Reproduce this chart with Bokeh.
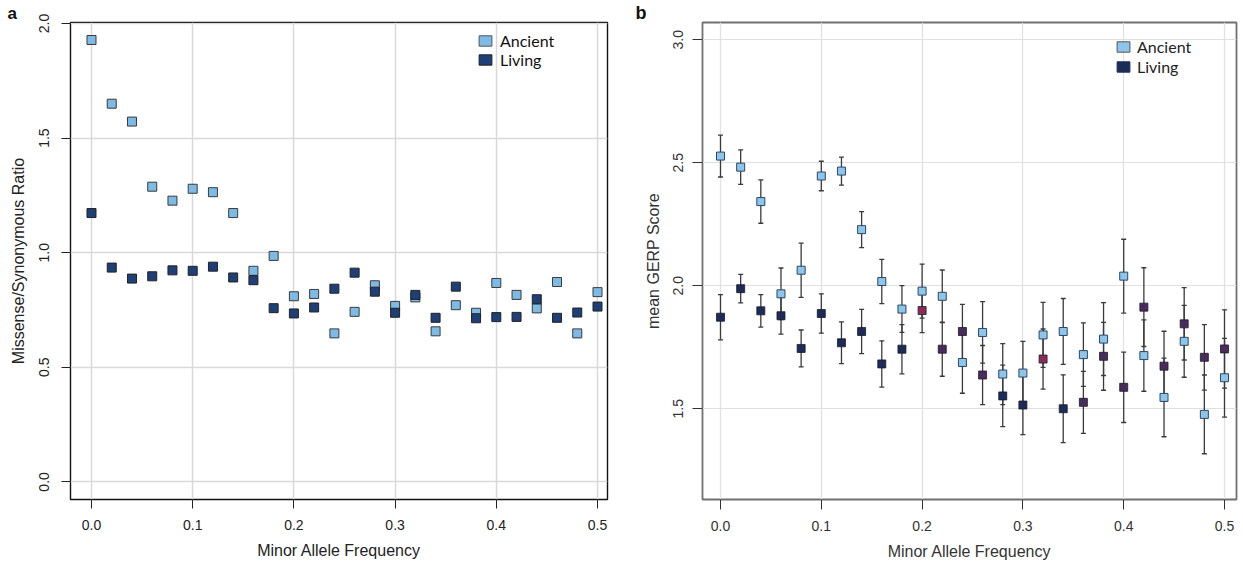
import numpy as np
from bokeh.plotting import figure
from bokeh.models import (ColumnDataSource, FixedTicker, Legend, LegendItem, Range1d)
from bokeh.layouts import row
from bokeh.embed import file_html
from bokeh.resources import INLINE

# ---------------- data ----------------
maf = [0.00, 0.02, 0.04, 0.06, 0.08, 0.10, 0.12, 0.14, 0.16, 0.18, 0.20, 0.22, 0.24,
       0.26, 0.28, 0.30, 0.32, 0.34, 0.36, 0.38, 0.40, 0.42, 0.44, 0.46, 0.48, 0.50]

# panel a: missense / synonymous ratio
ancient_ratio = [1.928, 1.650, 1.572, 1.288, 1.227, 1.279, 1.264, 1.173, 0.921, 0.986,
                 0.810, 0.820, 0.648, 0.742, 0.858, 0.768, 0.805, 0.657, 0.771, 0.738,
                 0.868, 0.816, 0.757, 0.872, 0.648, 0.828]
living_ratio = [1.173, 0.935, 0.887, 0.897, 0.923, 0.921, 0.939, 0.892, 0.880, 0.758,
                0.735, 0.761, 0.843, 0.913, 0.830, 0.738, 0.816, 0.716, 0.852, 0.714,
                0.719, 0.720, 0.797, 0.716, 0.739, 0.765]

# panel b: mean GERP score with error bars
ancient_gerp = [2.527, 2.482, 2.342, 1.967, 2.063, 2.446, 2.466, 2.228, 2.017, 1.905,
                1.978, 1.957, 1.688, 1.810, 1.641, 1.645, 1.800, 1.814, 1.720, 1.783,
                2.039, 1.716, 1.546, 1.774, 1.477, 1.626]
ancient_err = [0.085, 0.070, 0.088, 0.105, 0.110, 0.060, 0.057, 0.073, 0.090, 0.095,
               0.110, 0.107, 0.125, 0.125, 0.124, 0.129, 0.132, 0.134, 0.129, 0.148,
               0.150, 0.145, 0.160, 0.146, 0.160, 0.160]
living_gerp = [1.872, 1.988, 1.898, 1.878, 1.745, 1.887, 1.768, 1.814, 1.682, 1.742,
               1.899, 1.742, 1.814, 1.637, 1.552, 1.515, 1.702, 1.500, 1.526, 1.713,
               1.587, 1.913, 1.673, 1.845, 1.709, 1.743]
living_err = [0.092, 0.058, 0.066, 0.075, 0.075, 0.080, 0.085, 0.090, 0.094, 0.100,
              0.090, 0.110, 0.110, 0.120, 0.125, 0.120, 0.122, 0.138, 0.126, 0.138,
              0.143, 0.160, 0.142, 0.147, 0.133, 0.159]
living_shade = ["#1b2c58"] * 10 + ["#8a2c57", "#4a2c5c", "#4a2c5c", "#4a2c5c", "#1b2c58",
                                   "#1b2c58", "#8a2c57", "#1b2c58", "#4a2c5c", "#4a2c5c",
                                   "#4a2c5c", "#4a2c5c", "#4a2c5c", "#4a2c5c", "#4a2c5c",
                                   "#4a2c5c"]

x_ticks = [0.0, 0.1, 0.2, 0.3, 0.4, 0.5]
ya_ticks = [0.0, 0.5, 1.0, 1.5, 2.0]
yb_ticks = [1.5, 2.0, 2.5, 3.0]
series_names = ["Ancient", "Living"]
panel_tags = ["a", "b"]

FONT = "Liberation Sans"
LEG_FONT = "Lato"


def style_axes(p, xt, yt, txt_col, grid_col, grid_w, tick_len, ylab_standoff,
               ytitle_standoff):
    p.xaxis.ticker = FixedTicker(ticks=xt)
    p.yaxis.ticker = FixedTicker(ticks=yt)
    p.xgrid.ticker = FixedTicker(ticks=xt)
    p.ygrid.ticker = FixedTicker(ticks=yt)
    for g in (p.xgrid, p.ygrid):
        g.grid_line_color = grid_col
        g.grid_line_width = grid_w
    for ax in (p.xaxis, p.yaxis):
        ax.axis_line_color = None
        ax.major_tick_in = 0
        ax.major_tick_out = tick_len
        ax.major_tick_line_color = txt_col
        ax.major_tick_line_width = 1
        ax.minor_tick_line_color = None
        ax.major_label_text_font = FONT
        ax.major_label_text_font_size = "14px"
        ax.major_label_text_color = txt_col
        ax.axis_label_text_font = FONT
        ax.axis_label_text_font_size = "16px"
        ax.axis_label_text_font_style = "normal"
        ax.axis_label_text_color = txt_col
    p.xaxis.major_label_standoff = 11
    p.xaxis.axis_label_standoff = 9
    p.yaxis.major_label_orientation = "vertical"
    p.yaxis.major_label_standoff = ylab_standoff
    p.yaxis.axis_label_standoff = ytitle_standoff
    p.xaxis.major_label_overrides = {t: "%.1f" % t for t in xt}
    p.yaxis.major_label_overrides = {t: "%.1f" % t for t in yt}


def style_tag(p, offset, size):
    t = p.title
    t.align = "left"
    t.offset = offset
    t.standoff = 0
    t.text_font = FONT
    t.text_font_style = "bold"
    t.text_font_size = size
    t.text_color = "#111111"


def legend_proxy(p, fill, line):
    nan = np.array([np.nan])
    src = ColumnDataSource(dict(left=nan, right=nan, top=nan, bottom=nan))
    return p.quad(source=src, left="left", right="right", top="top", bottom="bottom",
                  fill_color=fill, line_color=line, line_width=1)


# ---------------- panel a ----------------
pa = figure(width=620, height=567, output_backend="svg", toolbar_location=None,
            title=panel_tags[0],
            x_range=Range1d(-0.02075, 0.50988), y_range=Range1d(-0.0767, 2.0043),
            min_border_left=70, min_border_right=13, min_border_top=19,
            min_border_bottom=68, background_fill_color="white",
            border_fill_color="white")
style_tag(pa, -63, "17px")
pa.outline_line_color = "#111111"
pa.outline_line_width = 1.4
style_axes(pa, x_ticks, ya_ticks, "#222222", "#d9d9d9", 1.5, 9, 12, 10)
pa.xaxis.axis_label = "Minor Allele Frequency"
pa.yaxis.axis_label = "Missense/Synonymous Ratio"

src_a = ColumnDataSource(dict(x=maf, anc=ancient_ratio, liv=living_ratio))
pa.scatter("x", "anc", source=src_a, marker="square", size=9,
           fill_color="#7dbbe6", line_color="#3a3a3a", line_width=1)
pa.scatter("x", "liv", source=src_a, marker="square", size=9,
           fill_color="#1f3f77", line_color="#222222", line_width=1)

qa1 = legend_proxy(pa, "#7dbbe6", "#555555")
qa2 = legend_proxy(pa, "#1f3f77", "#222222")
leg_a = Legend(items=[LegendItem(label=series_names[0], renderers=[qa1]),
                      LegendItem(label=series_names[1], renderers=[qa2])],
               location=(407, 430), padding=0, margin=0, spacing=0,
               glyph_width=16, glyph_height=13, label_height=17, label_standoff=7,
               label_text_font=LEG_FONT, label_text_font_size="16px",
               label_text_color="#111111", background_fill_alpha=0,
               border_line_color=None)
pa.add_layout(leg_a, "center")

# ---------------- panel b ----------------
pb = figure(width=623, height=567, output_backend="svg", toolbar_location=None,
            title=panel_tags[1],
            x_range=Range1d(-0.01786, 0.5119), y_range=Range1d(1.131, 3.070),
            min_border_left=82, min_border_right=7, min_border_top=21,
            min_border_bottom=68, background_fill_color="white",
            border_fill_color="white")
style_tag(pb, -67, "18px")
pb.outline_line_color = "#707070"
pb.outline_line_width = 1.8
style_axes(pb, x_ticks, yb_ticks, "#333333", "#e0e0e0", 1.2, 10, 9, 9)
pb.xaxis.axis_label = "Minor Allele Frequency"
pb.yaxis.axis_label = "mean GERP Score"

src_b = ColumnDataSource(dict(
    x=maf, anc=ancient_gerp, liv=living_gerp,
    anc_lo=[m - e for m, e in zip(ancient_gerp, ancient_err)],
    anc_hi=[m + e for m, e in zip(ancient_gerp, ancient_err)],
    liv_lo=[m - e for m, e in zip(living_gerp, living_err)],
    liv_hi=[m + e for m, e in zip(living_gerp, living_err)],
    shade=living_shade))
for lo, hi in (("liv_lo", "liv_hi"), ("anc_lo", "anc_hi")):
    pb.segment(x0="x", y0=lo, x1="x", y1=hi, source=src_b, line_color="#3a3a3a",
               line_width=1.3)
    for end in (lo, hi):
        pb.scatter("x", end, source=src_b, marker="dash", size=5, line_color="#3a3a3a",
                   line_width=1.3)
pb.scatter("x", "liv", source=src_b, marker="square", size=8, fill_color="shade",
           line_color="#1a1a2a", line_width=0.8)
pb.scatter("x", "anc", source=src_b, marker="square", size=8, fill_color="#8ec5ea",
           line_color="#2b4767", line_width=1)

qb1 = legend_proxy(pb, "#8ec5ea", "#555555")
qb2 = legend_proxy(pb, "#1b2c58", "#1b2c58")
leg_b = Legend(items=[LegendItem(label=series_names[0], renderers=[qb1]),
                      LegendItem(label=series_names[1], renderers=[qb2])],
               location=(413, 423), padding=0, margin=0, spacing=1,
               glyph_width=16, glyph_height=13, label_height=19, label_standoff=6,
               label_text_font=LEG_FONT, label_text_font_size="16px",
               label_text_color="#222222", background_fill_alpha=0,
               border_line_color=None)
pb.add_layout(leg_b, "center")

layout = row(pa, pb)
open("out.html", "w").write(file_html(layout, INLINE))
